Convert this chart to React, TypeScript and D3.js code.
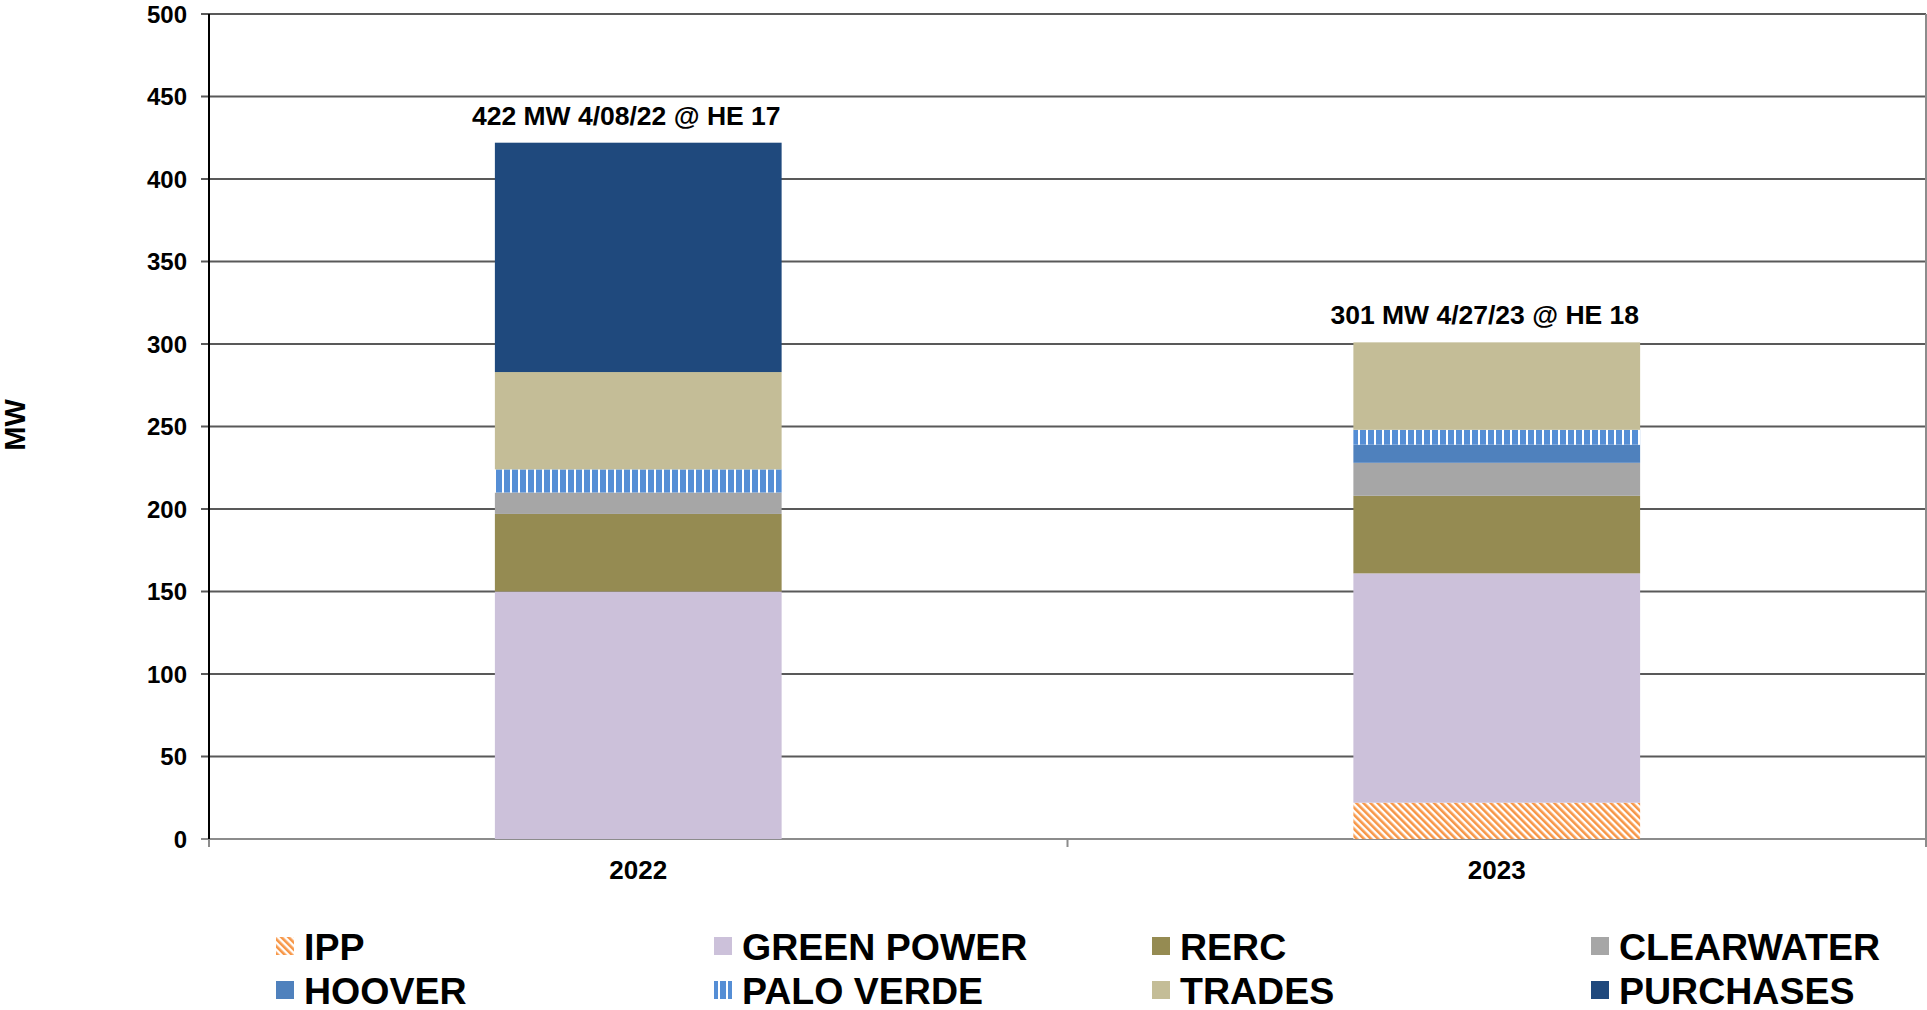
import React from "react";
import * as d3 from "d3";

const categories = ["2022", "2023"];
const seriesNames = ["IPP", "GREEN POWER", "RERC", "CLEARWATER", "HOOVER", "PALO VERDE", "TRADES", "PURCHASES"];
const ipp = [0, 22];
const greenPower = [150, 139];
const rerc = [47, 47];
const clearwater = [13, 20];
const hoover = [0, 11];
const paloVerde = [14, 9];
const trades = [59, 53];
const purchases = [139, 0];
const peakLabels = ["422 MW 4/08/22 @ HE 17", "301 MW 4/27/23 @ HE 18"];
const yTicks = [0, 50, 100, 150, 200, 250, 300, 350, 400, 450, 500];

const seriesValues = [ipp, greenPower, rerc, clearwater, hoover, paloVerde, trades, purchases];
const fills = [
  "url(#ippHatch)",
  "#ccc1da",
  "#958b52",
  "#a6a6a6",
  "#4f81bd",
  "url(#pvStripes)",
  "#c4bd97",
  "#1f497d",
];

const W = 1927;
const H = 1010;
const M = { left: 209, right: 1926, top: 14, bottom: 839 };
const FONT = "'Liberation Sans', Arial, Helvetica, sans-serif";

export default function App() {
  const x = d3.scaleBand<string>().domain(categories).range([M.left, M.right]).paddingInner(0).paddingOuter(0);
  const y = d3.scaleLinear().domain([0, 500]).range([M.bottom, M.top]);
  const barW = x.bandwidth() * 0.334;

  const table = categories.map((c, i) => {
    const row: any = { cat: c };
    seriesNames.forEach((s, j) => (row[s] = seriesValues[j][i]));
    return row;
  });
  const stack = d3.stack<any>().keys(seriesNames)(table);
  const totals = categories.map((_, i) => seriesValues.reduce((a, s) => a + s[i], 0));

  const legendText = [304, 742, 1180, 1619];
  const legendRows = [946, 990];

  return (
    <svg width={W} height={H} style={{ position: "absolute", left: 0, top: 0, background: "#fff" }} fontFamily={FONT}>
      <defs>
        <pattern id="ippHatch" patternUnits="userSpaceOnUse" width="5" height="5" patternTransform="rotate(-45)">
          <rect width="5" height="5" fill="#ffffff" />
          <rect x="0" y="0" width="2.6" height="5" fill="#f79646" />
        </pattern>
        <pattern id="pvStripes" patternUnits="userSpaceOnUse" width="8" height="8">
          <rect width="8" height="8" fill="#558ed5" />
          <rect x="6" y="0" width="2" height="8" fill="#ffffff" />
        </pattern>
      </defs>
      <rect x={0} y={0} width={W} height={H} fill="#fff" />

      {yTicks.map((t) => (
        <line key={"g" + t} x1={M.left - 8} x2={M.right} y1={y(t)} y2={y(t)} stroke={t === 0 ? "#8c8c8c" : "#595959"} strokeWidth={2} />
      ))}
      <line x1={M.right} x2={M.right} y1={M.top} y2={M.bottom + 8} stroke="#8c8c8c" strokeWidth={2} />

      {stack.map((layer, j) =>
        layer.map((d, i) => {
          const v = d[1] - d[0];
          if (v <= 0) return null;
          return (
            <rect
              key={j + "-" + i}
              x={(x(categories[i]) as number) + x.bandwidth() / 2 - barW / 2}
              y={y(d[1])}
              width={barW}
              height={y(d[0]) - y(d[1])}
              fill={fills[j]}
            />
          );
        })
      )}

      <line x1={M.left} x2={M.left} y1={M.top} y2={M.bottom} stroke="#000" strokeWidth={2} />
      {yTicks.map((t) => (
        <text key={"t" + t} x={M.left - 22} y={y(t)} dy="0.36em" textAnchor="end" fontSize={24} fontWeight="bold" fill="#000">
          {t}
        </text>
      ))}
      {[M.left, M.left + x.bandwidth(), M.right].map((xx, i) => (
        <line key={"xt" + i} x1={xx} x2={xx} y1={M.bottom} y2={M.bottom + 8} stroke="#8c8c8c" strokeWidth={2} />
      ))}
      {categories.map((c) => (
        <text key={"c" + c} x={(x(c) as number) + x.bandwidth() / 2} y={870} dy="0.36em" textAnchor="middle" fontSize={26} fontWeight="bold">
          {c}
        </text>
      ))}

      {categories.map((c, i) => (
        <text key={"p" + c} x={(x(c) as number) + x.bandwidth() / 2 - 12} y={y(totals[i]) - 18} textAnchor="middle" fontSize={26.5} fontWeight="bold">
          {peakLabels[i]}
        </text>
      ))}

      <text transform={`translate(15, 425) rotate(-90)`} dy="0.36em" textAnchor="middle" fontSize={29} fontWeight="bold">
        MW
      </text>

      {seriesNames.map((s, j) => {
        const col = j % 4;
        const row = Math.floor(j / 4);
        const tx = legendText[col];
        const ly = legendRows[row];
        return (
          <g key={"l" + s}>
            <rect x={tx - 28} y={ly - 9} width={18} height={18} fill={fills[j]} />
            <text x={tx} y={ly} dy="0.36em" fontSize={37.5} fontWeight="bold">
              {s}
            </text>
          </g>
        );
      })}
    </svg>
  );
}
